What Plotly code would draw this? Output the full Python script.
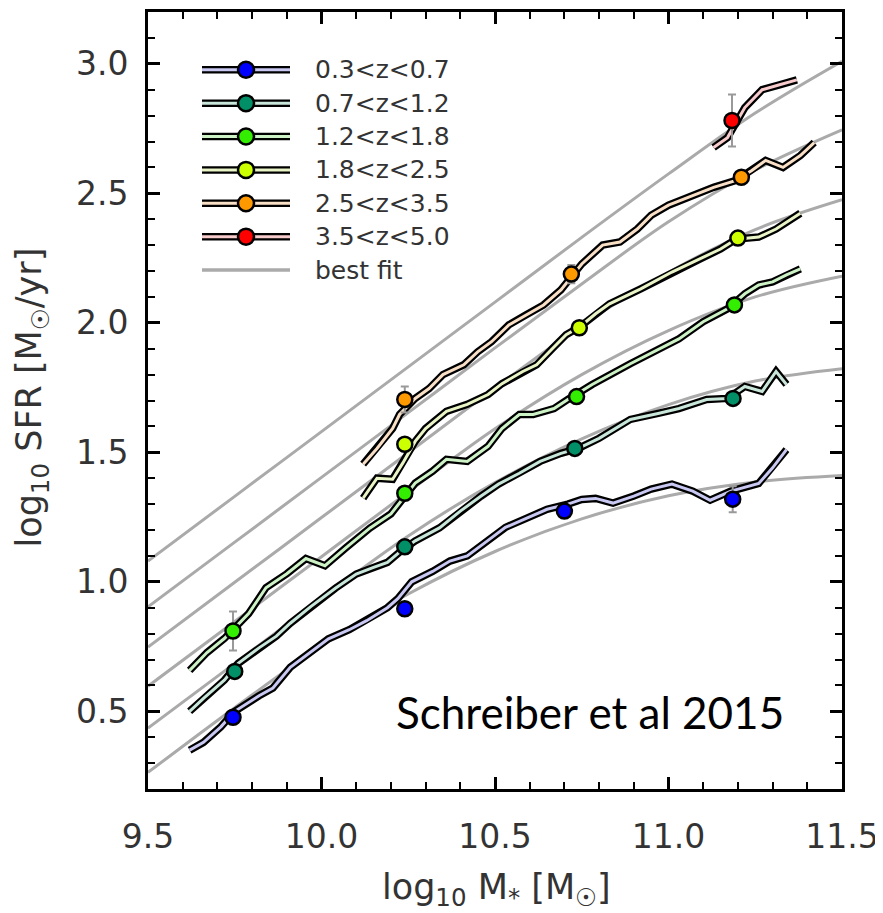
import plotly.graph_objects as go

# ---------------- data ----------------
fit_x = [9.5, 9.75, 10.0, 10.25, 10.5, 10.75, 11.0, 11.25, 11.5]
fit_y1 = [0.264, 0.514, 0.752, 0.953, 1.117, 1.243, 1.332, 1.385, 1.41]
fit_y2 = [0.435, 0.685, 0.935, 1.177, 1.383, 1.552, 1.684, 1.775, 1.823]
fit_y3 = [0.597, 0.847, 1.097, 1.347, 1.591, 1.800, 1.970, 2.100, 2.180]
fit_y4 = [0.748, 0.998, 1.248, 1.498, 1.748, 1.990, 2.195, 2.360, 2.475]
fit_y5 = [0.903, 1.153, 1.403, 1.653, 1.903, 2.150, 2.390, 2.590, 2.745]
fit_y6 = [1.080, 1.330, 1.580, 1.830, 2.080, 2.330, 2.575, 2.810, 3.010]

z1_x = [9.62, 9.66, 9.71, 9.75, 9.82, 9.86, 9.91, 9.96, 10.02, 10.08, 10.13, 10.19,
        10.22, 10.26, 10.32, 10.37, 10.42, 10.48, 10.53, 10.59, 10.65, 10.71, 10.75,
        10.79, 10.84, 10.90, 10.95, 11.01, 11.07, 11.12, 11.18, 11.26, 11.30, 11.34]
z1_y = [0.35, 0.38, 0.44, 0.50, 0.56, 0.59, 0.67, 0.72, 0.78, 0.815, 0.85, 0.90,
        0.935, 1.00, 1.04, 1.08, 1.10, 1.16, 1.21, 1.245, 1.28, 1.30, 1.318,
        1.322, 1.304, 1.331, 1.358, 1.377, 1.35, 1.315, 1.35, 1.38, 1.44, 1.51]

z2_x = [9.62, 9.66, 9.72, 9.76, 9.82, 9.87, 9.91, 9.97, 10.04, 10.10, 10.15, 10.19,
        10.23, 10.27, 10.34, 10.40, 10.46, 10.51, 10.57, 10.63, 10.69, 10.74, 10.80,
        10.89, 10.97, 11.03, 11.11, 11.17, 11.22, 11.27, 11.31, 11.34]
z2_y = [0.50, 0.55, 0.62, 0.685, 0.745, 0.79, 0.84, 0.905, 0.975, 1.03, 1.056, 1.075,
        1.12, 1.158, 1.208, 1.273, 1.331, 1.377, 1.419, 1.465, 1.496, 1.515, 1.554,
        1.627, 1.65, 1.669, 1.704, 1.708, 1.754, 1.735, 1.812, 1.762]

z3_x = [9.62, 9.67, 9.72, 9.79, 9.84, 9.90, 9.955, 10.01, 10.07, 10.14, 10.20, 10.23,
        10.27, 10.32, 10.36, 10.42, 10.48, 10.52, 10.57, 10.61, 10.67, 10.71, 10.78,
        10.89, 10.97, 11.03, 11.10, 11.17, 11.22, 11.26, 11.30, 11.34, 11.38]
z3_y = [0.658, 0.727, 0.781, 0.877, 0.977, 1.031, 1.09, 1.062, 1.131, 1.208, 1.262, 1.312,
        1.381, 1.427, 1.473, 1.465, 1.523, 1.592, 1.646, 1.646, 1.669, 1.704, 1.762,
        1.842, 1.896, 1.938, 2.004, 2.054, 2.112, 2.146, 2.158, 2.185, 2.208]

z4_x = [10.12, 10.16, 10.205, 10.235, 10.27, 10.30, 10.36, 10.42, 10.48, 10.52, 10.58,
        10.62, 10.665, 10.705, 10.745, 10.79, 10.83, 10.92, 11.01, 11.09, 11.15, 11.195,
        11.26, 11.31, 11.38]
z4_y = [1.323, 1.40, 1.396, 1.46, 1.542, 1.592, 1.658, 1.685, 1.723, 1.765, 1.812,
        1.838, 1.90, 1.954, 1.985, 2.035, 2.073, 2.131, 2.196, 2.246, 2.285, 2.323,
        2.331, 2.362, 2.423]

z5_x = [10.12, 10.16, 10.205, 10.225, 10.27, 10.31, 10.35, 10.41, 10.45, 10.49, 10.54,
        10.59, 10.64, 10.69, 10.75, 10.81, 10.86, 10.91, 10.95, 11.00, 11.07, 11.13,
        11.195, 11.24, 11.28, 11.33, 11.38, 11.42]
z5_y = [1.454, 1.515, 1.592, 1.646, 1.708, 1.746, 1.80, 1.838, 1.888, 1.927, 1.992,
        2.031, 2.069, 2.127, 2.227, 2.30, 2.312, 2.362, 2.415, 2.454, 2.492, 2.523,
        2.55, 2.588, 2.627, 2.60, 2.646, 2.696]

z6_x = [11.13, 11.17, 11.22, 11.27, 11.32, 11.37]
z6_y = [2.677, 2.715, 2.831, 2.90, 2.919, 2.938]

# highlighted points with error bars
p1_x = [9.745, 10.24, 10.70, 11.185]
p1_y = [0.477, 0.896, 1.273, 1.319]
p1_e = [0.02, 0.02, 0.02, 0.05]
p2_x = [9.75, 10.24, 10.73, 11.186]
p2_y = [0.654, 1.135, 1.515, 1.708]
p2_e = [0.02, 0.02, 0.02, 0.02]
p3_x = [9.745, 10.24, 10.735, 11.19]
p3_y = [0.81, 1.342, 1.715, 2.069]
p3_e = [0.075, 0.02, 0.02, 0.02]
p4_x = [10.24, 10.743, 11.20]
p4_y = [1.531, 1.981, 2.327]
p4_e = [0.02, 0.02, 0.02]
p5_x = [10.24, 10.72, 11.21]
p5_y = [1.704, 2.188, 2.562]
p5_e = [0.05, 0.035, 0.02]
p6_x = [11.183]
p6_y = [2.781]
p6_e = [0.10]

labels = ["0.3<z<0.7", "0.7<z<1.2", "1.2<z<1.8", "1.8<z<2.5", "2.5<z<3.5", "3.5<z<5.0"]
marker_colors = ["#0000ff", "#008f66", "#33ee00", "#ccff00", "#ff9900", "#ff0000"]
pale_colors = ["#c8c8f2", "#c8e6da", "#cdf2c6", "#e9f5c6", "#f8dfc6", "#f8cccc"]

fits = [fit_y1, fit_y2, fit_y3, fit_y4, fit_y5, fit_y6]
lines_x = [z1_x, z2_x, z3_x, z4_x, z5_x, z6_x]
lines_y = [z1_y, z2_y, z3_y, z4_y, z5_y, z6_y]
pts_x = [p1_x, p2_x, p3_x, p4_x, p5_x, p6_x]
pts_y = [p1_y, p2_y, p3_y, p4_y, p5_y, p6_y]
pts_e = [p1_e, p2_e, p3_e, p4_e, p5_e, p6_e]

FIT_COLOR = "#aaaaaa"
TXT = "#333333"

fig = go.Figure()
for fy in fits:
    fig.add_trace(go.Scatter(x=fit_x, y=fy, mode="lines",
                             line=dict(color=FIT_COLOR, width=3, shape="spline"),
                             showlegend=False, hoverinfo="skip"))

for i in range(6):
    fig.add_trace(go.Scatter(x=lines_x[i], y=lines_y[i], mode="lines",
                             line=dict(color="black", width=7.5),
                             showlegend=False, hoverinfo="skip"))
    fig.add_trace(go.Scatter(x=lines_x[i], y=lines_y[i], mode="lines",
                             line=dict(color=pale_colors[i], width=3),
                             showlegend=False, name=labels[i]))
for i in range(6):
    fig.add_trace(go.Scatter(x=pts_x[i], y=pts_y[i], mode="markers",
                             marker=dict(color=marker_colors[i], size=15,
                                         line=dict(color="black", width=2.5)),
                             error_y=dict(type="data", array=pts_e[i], visible=True,
                                          color="#999999", thickness=2, width=4),
                             showlegend=False, name=labels[i]))

# ---------------- layout ----------------
# the page body adds an 8px offset; target pixel positions are given in window coords
OFF = 8
FW, FH = 883 - OFF, 913 - OFF
L, T, R, B = 148 - OFF, 9 - OFF, 842 - OFF, 789 - OFF
W, H = R - L, B - T


def px(xp):
    return (xp - OFF - L) / W


def py(yp):
    return (B - (yp - OFF)) / H


shapes = []
annotations = []
row_y0, row_dy = 67, 33.5
lx0, lx1, lmx, ltx = 202, 290, 246, 313
for i in range(6):
    yy = py(row_y0 + row_dy * i)
    shapes.append(dict(type="line", xref="paper", yref="paper", x0=px(lx0), x1=px(lx1),
                       y0=yy, y1=yy, line=dict(color="black", width=7.5)))
    shapes.append(dict(type="line", xref="paper", yref="paper", x0=px(lx0), x1=px(lx1),
                       y0=yy, y1=yy, line=dict(color=pale_colors[i], width=3)))
    shapes.append(dict(type="circle", xref="paper", yref="paper",
                       xsizemode="pixel", ysizemode="pixel",
                       xanchor=px(lmx), yanchor=yy, x0=-8, x1=8, y0=-8, y1=8,
                       fillcolor=marker_colors[i], line=dict(color="black", width=2.5)))
    annotations.append(dict(text=labels[i], xref="paper", yref="paper", x=px(ltx), y=yy,
                            xanchor="left", yanchor="middle", showarrow=False,
                            font=dict(family="DejaVu Sans", size=25, color=TXT)))
yy = py(row_y0 + row_dy * 6)
shapes.append(dict(type="line", xref="paper", yref="paper", x0=px(lx0), x1=px(lx1),
                   y0=yy, y1=yy, line=dict(color=FIT_COLOR, width=3.5)))
annotations.append(dict(text="best fit", xref="paper", yref="paper", x=px(ltx), y=yy,
                        xanchor="left", yanchor="middle", showarrow=False,
                        font=dict(family="DejaVu Sans", size=25, color=TXT)))

annotations.append(dict(text="log<sub>10</sub> M<sub>*</sub> [M<sub>☉</sub>]",
                        xref="paper", yref="paper", x=px(496), y=py(890),
                        xanchor="center", yanchor="middle", showarrow=False,
                        font=dict(family="DejaVu Sans", size=35, color=TXT)))
annotations.append(dict(text="log<sub>10</sub> SFR [M<sub>☉</sub>/yr]",
                        xref="paper", yref="paper", x=px(32), y=py(396), textangle=-90,
                        xanchor="center", yanchor="middle", showarrow=False,
                        font=dict(family="DejaVu Sans", size=35, color=TXT)))
annotations.append(dict(text="Schreiber et al 2015", xref="paper", yref="paper",
                        x=px(590), y=py(712), xanchor="center", yanchor="middle",
                        showarrow=False, font=dict(family="Lato", size=44, color="black")))

axis_common = dict(showline=True, linecolor="black", linewidth=3, mirror="allticks",
                   ticks="inside", ticklen=12, tickwidth=2.5, tickcolor="black",
                   showgrid=False, zeroline=False, tickformat=".1f",
                   tickfont=dict(family="DejaVu Sans", size=33, color=TXT),
                   minor=dict(ticks="inside", ticklen=7, tickwidth=2, tickcolor="black",
                              dtick=0.1, showgrid=False))

fig.update_layout(
    width=FW, height=FH,
    margin=dict(l=L, r=FW - R, t=T, b=FH - B),
    paper_bgcolor="white", plot_bgcolor="white",
    showlegend=False,
    xaxis=dict(range=[9.5, 11.5], tick0=9.5, dtick=0.5, ticklabelstandoff=16,
               **axis_common),
    yaxis=dict(range=[0.2, 3.2], tick0=0.5, dtick=0.5, ticklabelstandoff=10,
               **axis_common),
    shapes=shapes,
    annotations=annotations,
)

fig.write_html("out.html")
